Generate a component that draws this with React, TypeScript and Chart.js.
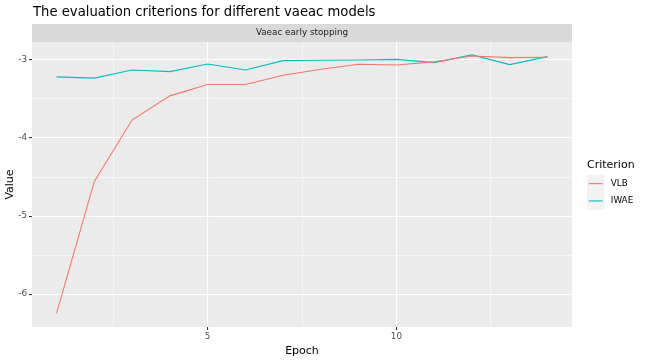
import React, { useEffect, useRef } from "react";
import { Chart, registerables } from "chart.js";

Chart.register(...registerables);

const epochs = [1, 2, 3, 4, 5, 6, 7, 8, 9, 10, 11, 12, 13, 14];
const vlb = [-6.245, -4.555, -3.77, -3.46, -3.315, -3.315, -3.196, -3.12, -3.055, -3.064, -3.025, -2.95, -2.97, -2.966];
const iwae = [-3.217, -3.232, -3.128, -3.149, -3.051, -3.128, -3.009, -3.004, -3.0, -2.992, -3.034, -2.935, -3.06, -2.957];
const xTicks = [2.5, 5, 7.5, 10, 12.5];
const yTicks = [-6, -5.5, -5, -4.5, -4, -3.5, -3];
const seriesNames = ["VLB", "IWAE"];
const seriesColors = ["#F8766D", "#00BFC4"];
const titleText = "The evaluation criterions for different vaeac models";
const stripText = "Vaeac early stopping";
const legendTitle = "Criterion";

const FONT = "'DejaVu Sans', sans-serif";

const decor = {
  id: "decor",
  beforeDraw(chart: any) {
    const { ctx, chartArea } = chart;
    const { left, right, top, bottom } = chartArea;
    ctx.save();
    ctx.fillStyle = "#FFFFFF";
    ctx.fillRect(0, 0, chart.width, chart.height);
    ctx.fillStyle = "#EBEBEB";
    ctx.fillRect(left, top, right - left, bottom - top);
    ctx.fillStyle = "#D9D9D9";
    ctx.fillRect(left, top - 18, right - left, 18);
    ctx.fillStyle = "#1A1A1A";
    ctx.font = `8.8px ${FONT}`;
    ctx.textAlign = "center";
    ctx.textBaseline = "middle";
    ctx.fillText(stripText, (left + right) / 2, top - 9);
    ctx.fillStyle = "#000000";
    ctx.font = `13.2px ${FONT}`;
    ctx.textAlign = "left";
    ctx.fillText(titleText, left + 1, 12.5);
    ctx.restore();
  },
  afterDraw(chart: any) {
    const { ctx } = chart;
    ctx.save();
    const lx = 587;
    ctx.fillStyle = "#000000";
    ctx.font = `11px ${FONT}`;
    ctx.textAlign = "left";
    ctx.textBaseline = "middle";
    ctx.fillText(legendTitle, lx, 165);
    const keyTop = 175;
    const key = 17.3;
    seriesNames.forEach((name, i) => {
      const y0 = keyTop + i * key;
      ctx.fillStyle = "#F2F2F2";
      ctx.fillRect(lx, y0, key, key);
      ctx.strokeStyle = seriesColors[i];
      ctx.lineWidth = 1.1;
      ctx.beginPath();
      ctx.moveTo(lx + 1.7, y0 + key / 2);
      ctx.lineTo(lx + key - 1.7, y0 + key / 2);
      ctx.stroke();
      ctx.fillStyle = "#000000";
      ctx.font = `8.8px ${FONT}`;
      ctx.fillText(name, lx + key + 6.5, y0 + key / 2);
    });
    ctx.restore();
  },
};

export default function App() {
  const ref = useRef<HTMLCanvasElement>(null);
  useEffect(() => {
    document.body.style.margin = "0";
    const canvas = ref.current!;
    const isMajor = (v: number) => Number.isInteger(v);
    const chart = new Chart(canvas, {
      type: "line",
      data: {
        datasets: [
          {
            label: seriesNames[0],
            data: epochs.map((e, i) => ({ x: e, y: vlb[i] })),
            borderColor: seriesColors[0],
            borderWidth: 1.1,
            pointRadius: 0,
            tension: 0,
            fill: false,
          },
          {
            label: seriesNames[1],
            data: epochs.map((e, i) => ({ x: e, y: iwae[i] })),
            borderColor: seriesColors[1],
            borderWidth: 1.1,
            pointRadius: 0,
            tension: 0,
            fill: false,
          },
        ],
      },
      options: {
        animation: false,
        responsive: false,
        maintainAspectRatio: false,
        layout: { padding: { left: 0, top: 42, right: 76, bottom: 0 } },
        plugins: {
          legend: { display: false },
          title: { display: false },
          tooltip: { enabled: false },
        },
        scales: {
          x: {
            type: "linear",
            min: 0.35,
            max: 14.65,
            afterBuildTicks: (s: any) => {
              s.ticks = xTicks.map((v) => ({ value: v }));
            },
            afterFit: (s: any) => {
              s.height = 33;
            },
            border: { display: false },
            grid: {
              color: "#FFFFFF",
              lineWidth: (c: any) => (isMajor(c.tick?.value) ? 1.1 : 0.55),
              tickColor: (c: any) => (isMajor(c.tick?.value) ? "#333333" : "rgba(0,0,0,0)"),
              tickLength: 3,
              tickWidth: 1.1,
            },
            ticks: {
              autoSkip: false,
              maxRotation: 0,
              padding: 1,
              color: "#4D4D4D",
              font: { family: FONT, size: 8.8 },
              callback: (v: any) => (isMajor(Number(v)) ? String(v) : ""),
            },
            title: {
              display: true,
              text: "Epoch",
              color: "#000000",
              font: { family: FONT, size: 11 },
              padding: { top: 0, bottom: 2 },
            },
          },
          y: {
            type: "linear",
            min: -6.42,
            max: -2.77,
            afterBuildTicks: (s: any) => {
              s.ticks = yTicks.map((v) => ({ value: v }));
            },
            afterFit: (s: any) => {
              s.width = 32;
            },
            border: { display: false },
            grid: {
              color: "#FFFFFF",
              lineWidth: (c: any) => (isMajor(c.tick?.value) ? 1.1 : 0.55),
              tickColor: (c: any) => (isMajor(c.tick?.value) ? "#333333" : "rgba(0,0,0,0)"),
              tickLength: 3,
              tickWidth: 1.1,
            },
            ticks: {
              autoSkip: false,
              padding: 2,
              color: "#4D4D4D",
              font: { family: FONT, size: 8.8 },
              callback: (v: any) => (isMajor(Number(v)) ? String(v) : ""),
            },
            title: {
              display: true,
              text: "Value",
              color: "#000000",
              font: { family: FONT, size: 11 },
              padding: { top: 4, bottom: 0 },
            },
          },
        },
      },
      plugins: [decor],
    } as any);
    return () => chart.destroy();
  }, []);
  return (
    <div style={{ position: "absolute", left: 0, top: 0, width: 648, height: 360 }}>
      <canvas ref={ref} width={648} height={360} style={{ width: 648, height: 360 }} />
    </div>
  );
}
